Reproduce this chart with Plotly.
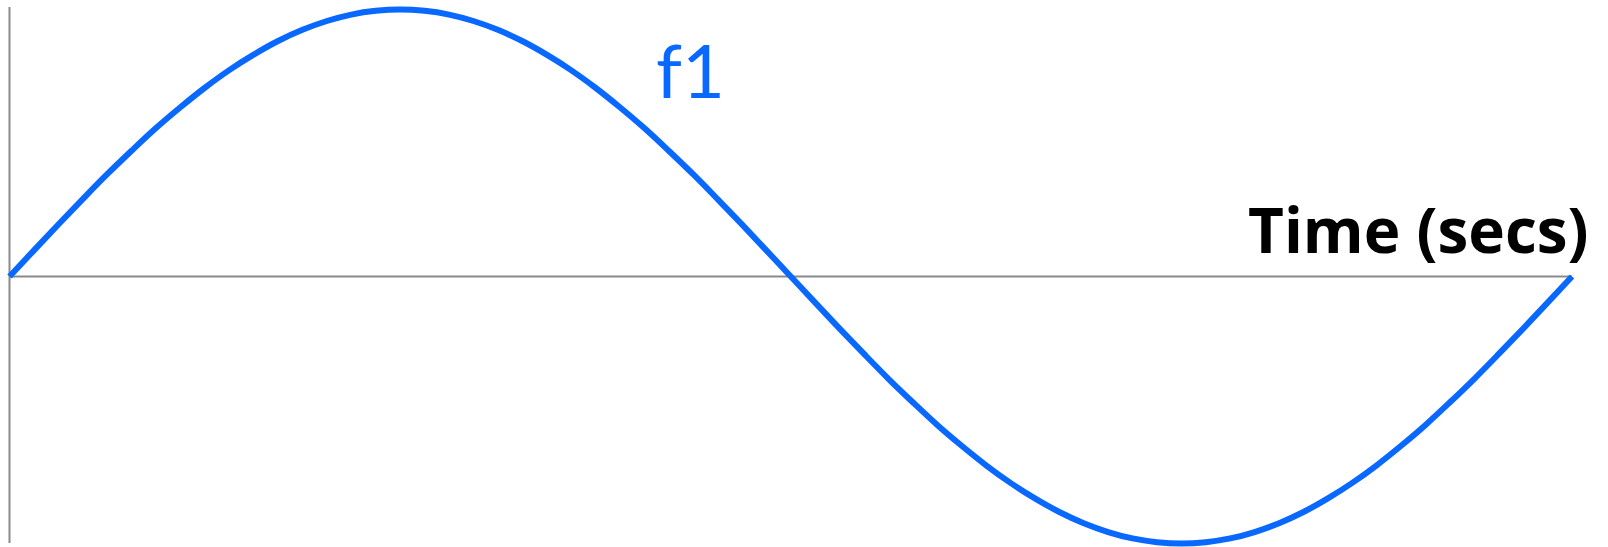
import plotly.graph_objects as go

# Signal f1 sampled over one period
time_secs = [0.00, 0.05, 0.10, 0.15, 0.20, 0.25, 0.30, 0.35, 0.40, 0.45,
             0.50, 0.55, 0.60, 0.65, 0.70, 0.75, 0.80, 0.85, 0.90, 0.95,
             1.00, 1.05, 1.10, 1.15, 1.20, 1.25, 1.30, 1.35, 1.40, 1.45,
             1.50, 1.55, 1.60, 1.65, 1.70, 1.75, 1.80, 1.85, 1.90, 1.95,
             2.00, 2.05, 2.10, 2.15, 2.20, 2.25, 2.30, 2.35, 2.40, 2.45,
             2.50, 2.55, 2.60, 2.65, 2.70, 2.75, 2.80, 2.85, 2.90, 2.95,
             3.00, 3.05, 3.10, 3.15, 3.20]
f1_values = [0.000, 0.098, 0.195, 0.290, 0.383, 0.471, 0.556, 0.634, 0.707, 0.773,
             0.831, 0.882, 0.924, 0.957, 0.981, 0.995, 1.000, 0.995, 0.981, 0.957,
             0.924, 0.882, 0.831, 0.773, 0.707, 0.634, 0.556, 0.471, 0.383, 0.290,
             0.195, 0.098, 0.000, -0.098, -0.195, -0.290, -0.383, -0.471, -0.556, -0.634,
             -0.707, -0.773, -0.831, -0.882, -0.924, -0.957, -0.981, -0.995, -1.000, -0.995,
             -0.981, -0.957, -0.924, -0.882, -0.831, -0.773, -0.707, -0.634, -0.556, -0.471,
             -0.383, -0.290, -0.195, -0.098, 0.000]

series_name = "f1"
axis_title = "Time (secs)"

BLUE = "#0868ff"
AXIS_GRAY = "#8a8a8a"

# extent of the drawn axes
t_start, t_end = time_secs[0], time_secs[-1]
y_axis_low, y_axis_high = -0.998, 1.009

fig = go.Figure()

fig.add_trace(go.Scatter(
    x=time_secs, y=f1_values, mode="lines",
    line=dict(color=BLUE, width=6, shape="spline", smoothing=1.0),
    name=series_name, showlegend=False, hoverinfo="skip",
))

# horizontal time axis and vertical value axis
fig.add_shape(type="line", xref="x", yref="y", x0=t_start, x1=t_end, y0=0, y1=0,
              line=dict(color=AXIS_GRAY, width=2), layer="below")
fig.add_shape(type="line", xref="x", yref="y", x0=t_start, x1=t_start,
              y0=y_axis_low, y1=y_axis_high,
              line=dict(color=AXIS_GRAY, width=2), layer="below")

fig.add_annotation(text=series_name, xref="paper", yref="paper",
                   x=690 / 1608, y=1 - 99 / 547, xanchor="center", yanchor="bottom",
                   showarrow=False, yshift=-17,
                   font=dict(family="Lato", size=74, color=BLUE))
fig.add_annotation(text=axis_title, xref="paper", yref="paper",
                   x=1591 / 1608, y=1 - 252 / 547, xanchor="right", yanchor="bottom",
                   showarrow=False, yshift=-21,
                   font=dict(family="Open Sans", size=62, color="black", weight=700))

fig.update_layout(
    width=1608, height=547,
    margin=dict(l=0, r=0, t=0, b=0),
    paper_bgcolor="white", plot_bgcolor="white",
    xaxis=dict(range=[-0.01946, 3.2737], visible=False, fixedrange=True),
    yaxis=dict(range=[-1.0131, 1.0356], visible=False, fixedrange=True),
)

fig.write_html("out.html")
